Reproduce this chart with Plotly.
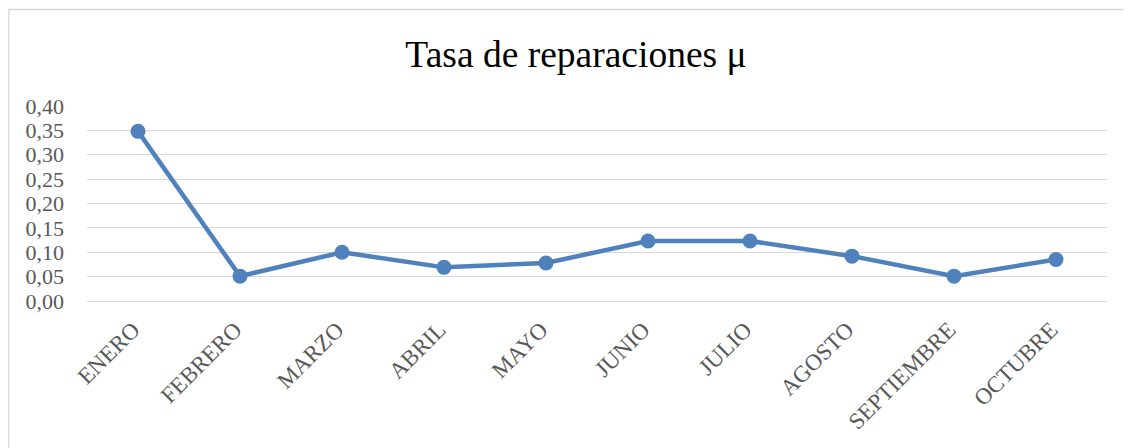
import plotly.graph_objects as go

months = ["ENERO", "FEBRERO", "MARZO", "ABRIL", "MAYO", "JUNIO", "JULIO",
          "AGOSTO", "SEPTIEMBRE", "OCTUBRE"]
mu = [0.348, 0.051, 0.100, 0.069, 0.078, 0.123, 0.123, 0.092, 0.051, 0.085]
y_ticks = [0.00, 0.05, 0.10, 0.15, 0.20, 0.25, 0.30, 0.35, 0.40]

# page body has an 8px default margin: compensate
OFF = 8
W, H = 1132 - OFF, 448 - OFF
ML, MR, MT = 87 - OFF, 25, 106 - OFF
PH = 195
MB = H - MT - PH
LINE = "rgb(79,129,189)"
GRID = "#D9D9D9"
FONT = "Liberation Serif, Times New Roman, serif"

fig = go.Figure()
fig.add_trace(go.Scatter(
    x=months, y=mu, mode="lines+markers",
    line=dict(color=LINE, width=4.5),
    marker=dict(color=LINE, size=15),
    hoverinfo="x+y",
))

pw = W - ML - MR
ph = PH
fig.add_shape(type="rect", xref="paper", yref="paper",
              x0=(0.8 - ML) / pw, x1=(W + 20 - ML) / pw,
              y0=(H - MB - (H + 20)) / ph, y1=(H - MB - (9.5 - OFF)) / ph,
              line=dict(color=GRID, width=1.3), fillcolor="rgba(0,0,0,0)",
              layer="below")

fig.update_layout(
    width=W, height=H,
    margin=dict(l=ML, r=MR, t=MT, b=MB, pad=0),
    paper_bgcolor="white", plot_bgcolor="white",
    separators=",.",
    showlegend=False,
    font=dict(family=FONT, color="#595959", size=22),
    title=dict(text="Tasa de reparaciones μ", x=(576 - OFF) / W, xref="container",
               y=1 - (54 - OFF) / H, yref="container", xanchor="center", yanchor="middle",
               font=dict(family=FONT, size=37.5, color="black")),
    xaxis=dict(showgrid=False, showline=True, linecolor=GRID, linewidth=1.3,
               tickangle=-45, ticks="", tickfont=dict(size=23, color="#595959"),
               ticklabelstandoff=5, ticklabelshift=-5,
               range=[-0.5, len(months) - 0.5], fixedrange=True, automargin=False),
    yaxis=dict(range=[0, 0.4], tickvals=y_ticks, tickformat=".2f",
               showgrid=True, gridcolor=GRID, gridwidth=1.3, zeroline=False,
               showline=False, ticks="", tickfont=dict(size=22, color="#595959"),
               ticklabelstandoff=22,
               fixedrange=True, automargin=False),
)

fig.write_html("out.html")
